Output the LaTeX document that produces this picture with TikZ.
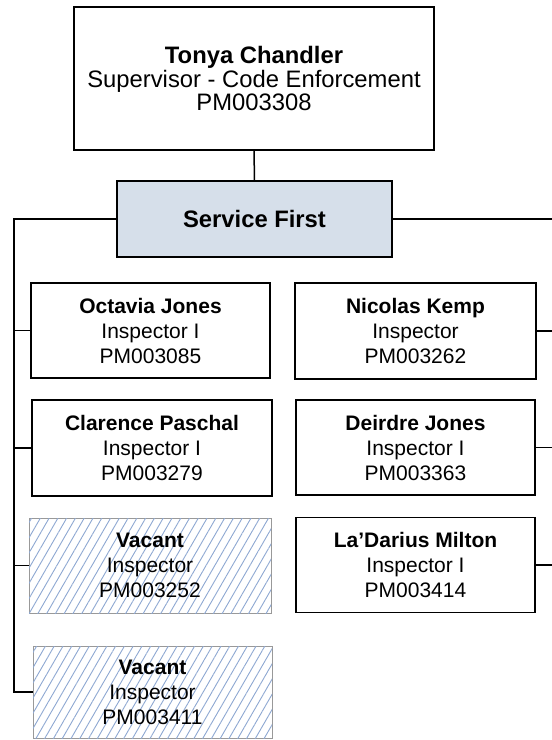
\documentclass[tikz,border=0pt]{standalone}
\usepackage{fontspec}
\setmainfont{Liberation Sans}
\usetikzlibrary{patterns.meta}
\definecolor{sfblue}{HTML}{D6DFEA}
\definecolor{hatch}{HTML}{8EA8D2}
\tikzset{
  box/.style={draw=black, line width=1.3pt, align=center, inner sep=0pt, fill=white,
     font=\fontsize{21}{25}\selectfont},
  topbox/.style={box, font=\fontsize{23.8}{23.8}\selectfont},
  sfbox/.style={box, fill=sfblue, font=\fontsize{23.8}{24}\selectfont\bfseries},
  vacbox/.style={box, draw=gray!80, line width=0.7pt, fill=white,
     postaction={pattern={Lines[angle=60,distance=7.6pt,line width=0.9pt]}, pattern color=hatch}},
  conn/.style={draw=black, line width=1.5pt},
}
\begin{document}
\begin{tikzpicture}[x=1pt,y=1pt]
\useasboundingbox (0,0) rectangle (552,-740);
\node[topbox, minimum width=360, minimum height=143] (top) at (254,-78.5)
  {\textbf{Tonya Chandler}\\Supervisor - Code Enforcement\\PM003308};
\node[sfbox, minimum width=275, minimum height=76] (sf) at (254.5,-219) {Service First};
\node[box, minimum width=239, minimum height=95] (oj) at (150.5,-330.5)
  {\textbf{Octavia Jones}\\Inspector I\\PM003085};
\node[box, minimum width=240, minimum height=96] (cp) at (152,-448)
  {\textbf{Clarence Paschal}\\Inspector I\\PM003279};
\node[vacbox, minimum width=242, minimum height=95] (v1) at (150,-565.5)
  {\textbf{Vacant}\\Inspector\\PM003252};
\node[vacbox, minimum width=239, minimum height=92] (v2) at (152.5,-692)
  {\textbf{Vacant}\\Inspector\\PM003411};
\node[box, minimum width=241, minimum height=96] (nk) at (415.5,-331)
  {\textbf{Nicolas Kemp}\\Inspector\\PM003262};
\node[box, minimum width=239, minimum height=95] (dj) at (415.5,-447.5)
  {\textbf{Deirdre Jones}\\Inspector I\\PM003363};
\node[box, minimum width=239, minimum height=95] (lm) at (415.5,-565)
  {\textbf{La’Darius Milton}\\Inspector I\\PM003414};
\coordinate (lb) at (14,-219);
\coordinate (rb) at (553,-219);
\draw[conn] (top.south) -- (sf.north);
\draw[conn] (sf.west) -- (lb) |- (v2.west);
\draw[conn] (lb |- oj.west) -- (oj.west);
\draw[conn] (lb |- cp.west) -- (cp.west);
\draw[conn] (lb |- v1.west) -- (v1.west);
\draw[conn] (sf.east) -- (rb) -- (rb |- lm.east) -- (lm.east);
\draw[conn] (nk.east) -- (rb |- nk.east);
\draw[conn] (dj.east) -- (rb |- dj.east);
\end{tikzpicture}
\end{document}
